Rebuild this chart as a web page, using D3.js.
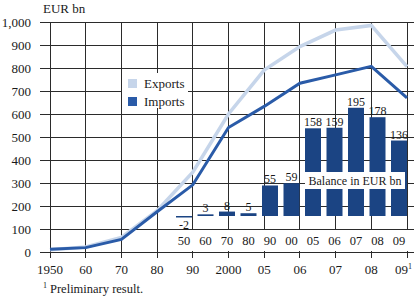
<html>
<head>
  <meta charset="utf-8" />
  <script src="https://cdnjs.cloudflare.com/ajax/libs/d3/7.8.5/d3.min.js"></script>
  <style>
    body { margin: 0; background: #fff; }
    svg text { font-family: 'Liberation Serif', 'DejaVu Serif', serif; fill: #1a1a1a; }
  </style>
</head>
<body>
  <svg width="416" height="297" font-family="Liberation Serif, DejaVu Serif, serif"></svg>
<script>
  // main chart data (EUR bn)
  var years     = ["1950", "60", "70", "80", "90", "2000", "05", "06", "07", "08", "09"]
  var exportsBn = [10, 22, 63, 180, 347, 600, 791, 893, 965, 985, 806]
  var importsBn = [12, 19, 55, 175, 292, 541, 633, 734, 770, 807, 670]
  var yTicks    = [0, 100, 200, 300, 400, 500, 600, 700, 800, 900, 1000]

  // inset: balance
  var balCats = ["50", "60", "70", "80", "90", "00", "05", "06", "07", "08", "09"]
  var balance = [-2, 3, 8, 5, 55, 59, 158, 159, 195, 178, 136]

  var lightBlue = "#c6d5ea", darkBlue = "#2a5ba8", barBlue = "#1b4483", gridCol = "#2b2b2b"

  var svg = d3.select("svg")
  var x = d3.scalePoint().domain(years).range([50, 407])
  var y = d3.scaleLinear().domain([0, 1000]).range([252, 22])

  // grid
  svg.append("g").selectAll("line").data(yTicks).enter().append("line")
    .attr("x1", 40).attr("x2", 414)
    .attr("y1", d => y(d)).attr("y2", d => y(d))
    .attr("stroke", gridCol).attr("stroke-width", 1).attr("shape-rendering", "crispEdges")
  svg.append("g").selectAll("line").data(years).enter().append("line")
    .attr("x1", d => x(d)).attr("x2", d => x(d))
    .attr("y1", y(1000)).attr("y2", y(0) + 6)
    .attr("stroke", gridCol).attr("stroke-width", 1).attr("shape-rendering", "crispEdges")

  // y labels
  svg.append("g").selectAll("text").data(yTicks).enter().append("text")
    .attr("x", 31).attr("y", d => y(d) + 4.5)
    .attr("text-anchor", "end").attr("font-size", 13)
    .text(d3.format(","))
  svg.append("text").attr("x", 43).attr("y", 13).attr("font-size", 13).text("EUR bn")

  // x labels
  var xl = svg.append("g").selectAll("text").data(years).enter().append("text")
    .attr("x", d => x(d)).attr("y", 274)
    .attr("text-anchor", "middle").attr("font-size", 13)
    .text(d => d)
  xl.filter(d => d == "09").attr("text-anchor", "start").attr("x", d => x(d) - 12)
    .append("tspan").attr("font-size", 8).attr("dy", -5).text("1")

  // footnote
  var fn = svg.append("text").attr("x", 43).attr("y", 293).attr("font-size", 12.5)
  fn.append("tspan").attr("font-size", 8).attr("dy", -5).text("1")
  fn.append("tspan").attr("dy", 5).attr("dx", 3).text("Preliminary result.")

  // lines
  var line = d3.line().x((d, i) => x(years[i])).y(d => y(d))
  svg.append("path").datum(exportsBn).attr("d", line)
    .attr("fill", "none").attr("stroke", lightBlue).attr("stroke-width", 3.5)
  svg.append("path").datum(importsBn).attr("d", line)
    .attr("fill", "none").attr("stroke", darkBlue).attr("stroke-width", 3)

  // legend
  var leg = svg.append("g")
  leg.append("rect").attr("x", 122).attr("y", 73).attr("width", 66).attr("height", 35).attr("fill", "#fff")
  var legItems = [["Exports", lightBlue], ["Imports", darkBlue]]
  legItems.forEach(function(it, i) {
    leg.append("rect").attr("x", 128).attr("y", 79 + i * 18).attr("width", 9).attr("height", 9).attr("fill", it[1])
    leg.append("text").attr("x", 144).attr("y", 88 + i * 18).attr("font-size", 13).text(it[0])
  })

  // inset balance bars
  var xb = d3.scalePoint().domain(balCats).range([184, 399])
  var yb = d3.scaleLinear().domain([0, 200]).range([216, 105])
  var inset = svg.append("g")
  inset.append("rect").attr("x", 171).attr("y", y(100) + 1).attr("width", 241).attr("height", y(0) - y(100) - 2).attr("fill", "#fff")
  inset.selectAll(".bar").data(balance).enter().append("rect")
    .attr("x", (d, i) => xb(balCats[i]) - 8).attr("width", 16)
    .attr("y", d => yb(Math.max(0, d)))
    .attr("height", d => Math.max(1.5, Math.abs(yb(d) - yb(0))))
    .attr("fill", barBlue)
  inset.selectAll(".val").data(balance).enter().append("text")
    .attr("x", (d, i) => xb(balCats[i])).attr("y", d => d < 0 ? yb(d) + 12 : yb(d) - 2)
    .attr("text-anchor", "middle").attr("font-size", 12)
    .text(d => d)
  inset.selectAll(".cat").data(balCats).enter().append("text")
    .attr("x", d => xb(d)).attr("y", 245)
    .attr("text-anchor", "middle").attr("font-size", 12.5)
    .text(d => d)
  inset.append("rect").attr("x", 305).attr("y", 172).attr("width", 100).attr("height", 17).attr("fill", "#fff")
  inset.append("text").attr("x", 355).attr("y", 185).attr("text-anchor", "middle").attr("font-size", 12).text("Balance in EUR bn")
</script>
</body>
</html>
